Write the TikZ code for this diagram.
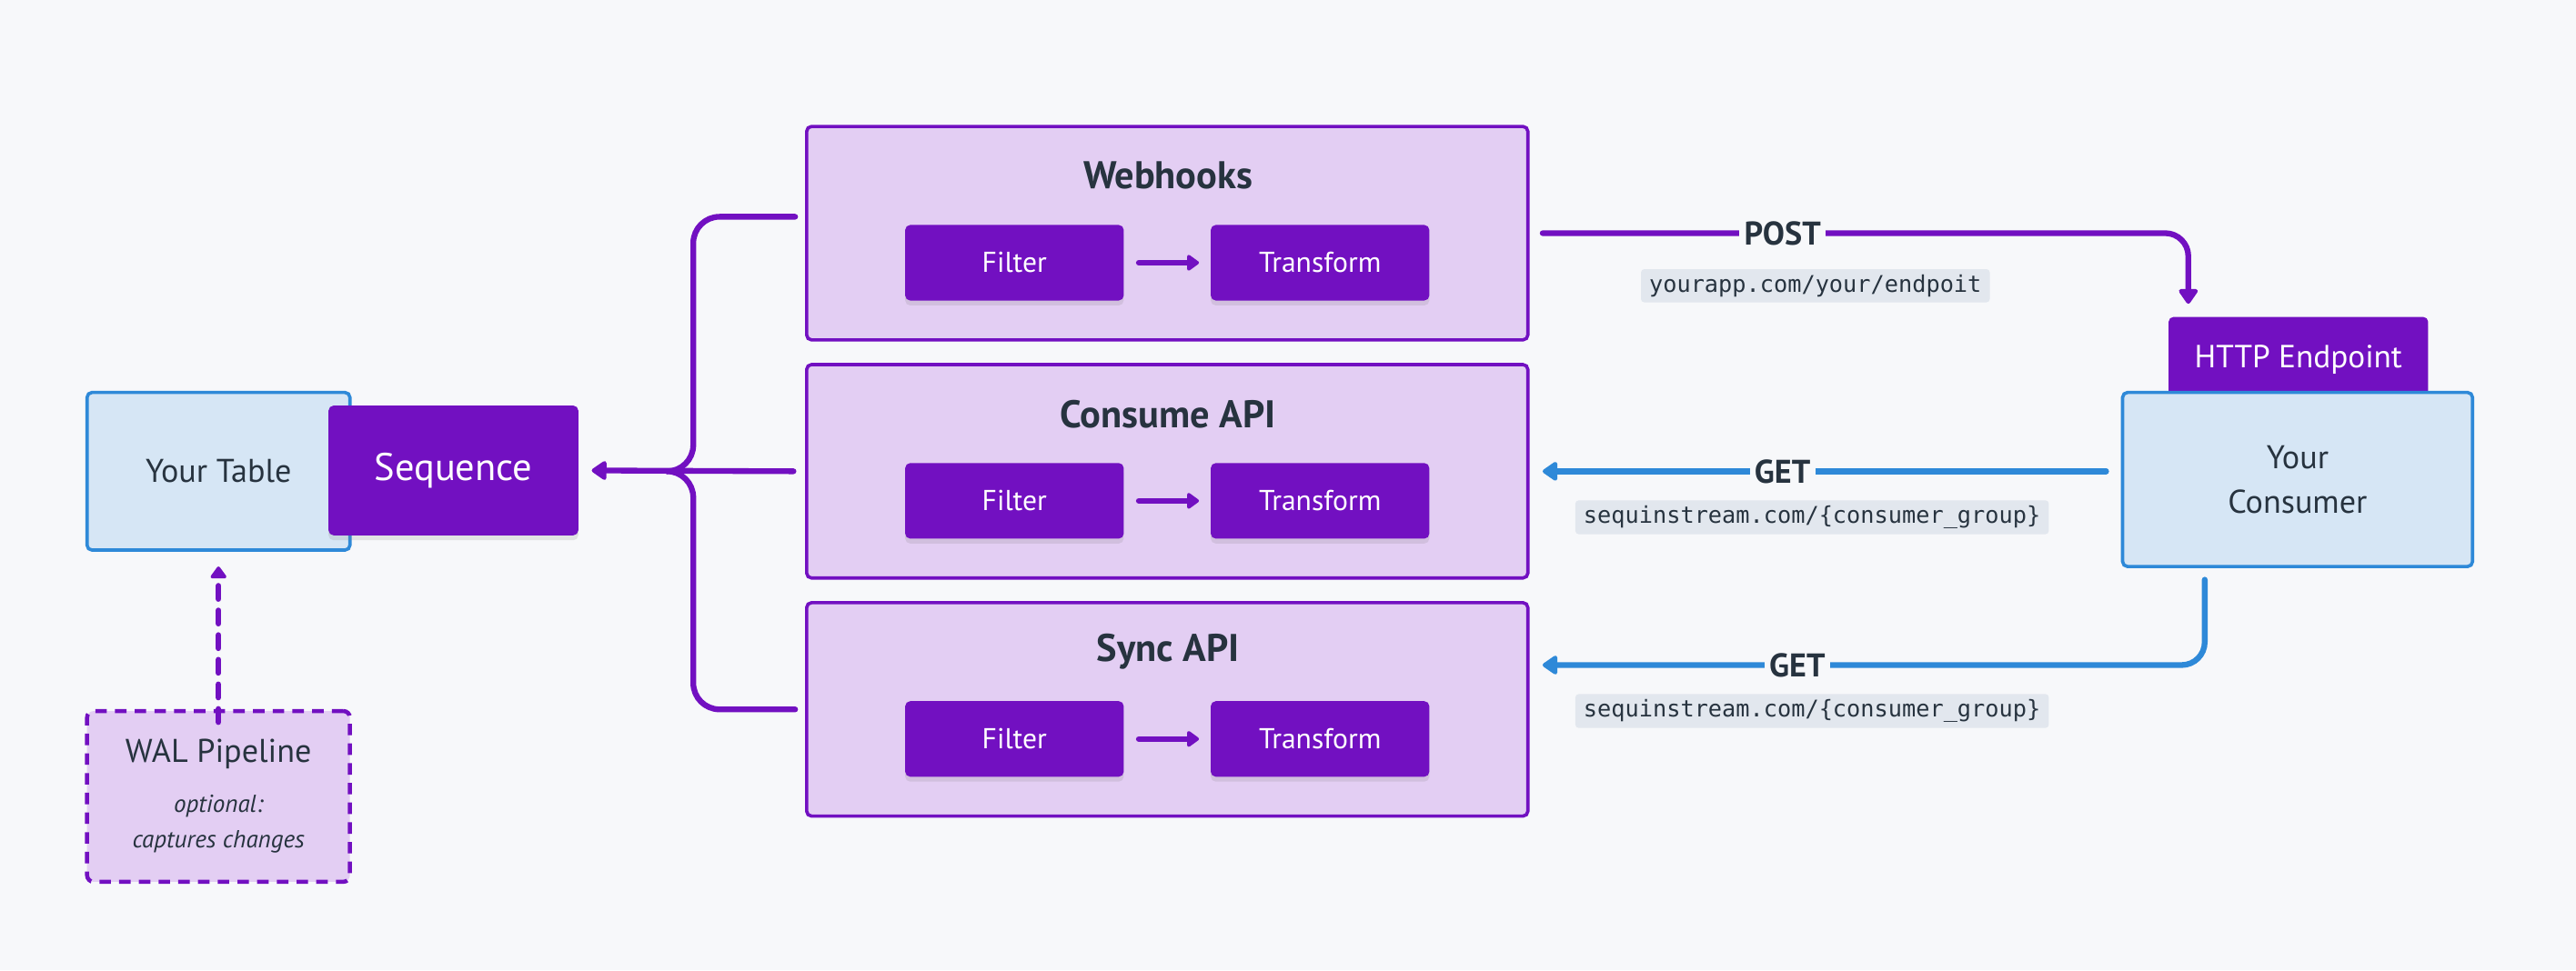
\documentclass[tikz,border=0pt]{standalone}
\usepackage{fontspec}
\setmainfont{PT Sans}
\setmonofont{DejaVu Sans Mono}
\usetikzlibrary{arrows.meta,shadows,calc}
\definecolor{bg}{HTML}{F7F8FA}
\definecolor{purp}{HTML}{7210C1}
\definecolor{lav}{HTML}{E3CEF3}
\definecolor{blu}{HTML}{2E89D8}
\definecolor{lblu}{HTML}{D6E6F5}
\definecolor{ink}{HTML}{27333F}
\definecolor{codebg}{HTML}{E2E7EE}
\newcommand{\walsmall}{\itshape\fontsize{15}{19}\selectfont}
\begin{document}
\begin{tikzpicture}[x=1pt,y=-1pt,
  bluebox/.style={draw=blu, line width=2pt, fill=lblu, rounded corners=3pt, text=ink,
    font=\fontsize{20}{27}\selectfont, align=center, inner sep=0pt},
  solidbox/.style={fill=purp, rounded corners=3pt, text=white, inner sep=0pt,
    drop shadow={opacity=0.18, shadow xshift=0pt, shadow yshift=-3pt}},
  stagebox/.style={draw=purp, line width=2pt, fill=lav, rounded corners=3pt,
    minimum width=439pt, minimum height=130pt, inner sep=0pt},
  stagetitle/.style={text=ink, font=\bfseries\fontsize{23.5}{26}\selectfont},
  opbox/.style={solidbox, minimum width=133pt, minimum height=46pt,
    font=\fontsize{17.5}{20}\selectfont},
  conn/.style={draw=purp, line width=3.5pt, line cap=round},
  bconn/.style={draw=blu, line width=3.5pt, line cap=round},
  tip/.style={-{Triangle[length=10pt,width=13pt,round]}},
  smalltip/.style={-{Triangle[length=8pt,width=11pt,round]}},
  verb/.style={fill=bg, text=ink, font=\bfseries\fontsize{20}{22}\selectfont, inner sep=3pt},
  code/.style={fill=codebg, rounded corners=2pt, text=ink, font=\ttfamily\fontsize{14}{16}\selectfont,
    inner xsep=5pt, minimum height=20pt},
]
\fill[bg] (0,0) rectangle (1568,591);
\useasboundingbox (0,0) rectangle (1568,591);

% left side
\node[bluebox, minimum width=160pt, minimum height=96pt] (tbl) at (133,287) {Your Table};
\node[solidbox, minimum width=152pt, minimum height=79pt, font=\fontsize{23.5}{26}\selectfont] (seq) at (276,286.5) {\raisebox{-2pt}{Sequence}};
\node[draw=purp, line width=2.5pt, dash pattern=on 7pt off 5pt, fill=lav, rounded corners=4pt,
  minimum width=160pt, minimum height=104pt, text=ink, align=center, inner sep=0pt,
  font=\fontsize{20}{22}\selectfont] (wal) at (133,485)
  {WAL Pipeline\\[8pt]\walsmall optional:\\\walsmall captures changes};
\draw[conn, dash pattern=on 8pt off 7pt, smalltip] ([yshift=-8pt]wal.north) -- ([yshift=-9pt]tbl.south);

% stages
\node[stagebox] (wh) at (710.5,142) {};
\node[stagebox] (ca) at (710.5,287) {};
\node[stagebox] (sa) at (710.5,432) {};
\node[stagetitle] (wht) at (711,107) {Webhooks};
\node[stagetitle] (cat) at (711,252) {Consume API};
\node[stagetitle] (sat) at (711,397) {Sync API};
\foreach \n/\y in {wh/160, ca/305, sa/450}{
  \node[opbox] (\n f) at (617.5,\y) {Filter};
  \node[opbox] (\n t) at (803.5,\y) {Transform};
  \draw[conn, smalltip] ([xshift=9pt]\n f.east) -- ([xshift=-7pt]\n t.west);
}

% branch into Sequence
\coordinate (j) at (406,287);
\coordinate (wtop) at (484,132);
\coordinate (sbot) at (484,432);
\draw[conn, tip] ([xshift=-7pt]ca.west) -- ([xshift=8pt]seq.east);
\draw[conn, rounded corners=16pt] (wtop) -- (422,132) -- (422,287) -- (j);
\draw[conn, rounded corners=16pt] (sbot) -- (422,432) -- (422,287) -- (j);

% right side
\node[solidbox, minimum width=158pt, minimum height=52pt, font=\fontsize{19.5}{22}\selectfont] (http) at (1399,219) {HTTP Endpoint};
\node[bluebox, minimum width=213pt, minimum height=106pt] (cons) at (1398.5,292) {Your\\Consumer};

% POST
\coordinate (postend) at (1332,185);
\draw[conn, tip, rounded corners=14pt] ([xshift=8pt]wh.east) -- (1332,142) -- (postend);
\node[verb] (post) at (1085,142) {POST};
\node[code] (url1) at (1105,174) {yourapp.com/your/endpoit};

% GET from Consume API
\draw[bconn, tip] ([xshift=-9pt]cons.west |- ca.east) -- ([xshift=8pt]ca.east);
\node[verb] (get1) at (1085,287) {GET};
\node[code] (url2) at (1103,315) {sequinstream.com/\{consumer\_group\}};

% GET from Sync API
\coordinate (gstart) at (1342,353);
\coordinate (gend) at ([xshift=8pt]sa.east);
\draw[bconn, tip, rounded corners=14pt] (gstart) -- (1342,405) -- (gend |- 0,405);
\node[verb] (get2) at (1094,405) {GET};
\node[code] (url3) at (1103,433) {sequinstream.com/\{consumer\_group\}};
\end{tikzpicture}
\end{document}
